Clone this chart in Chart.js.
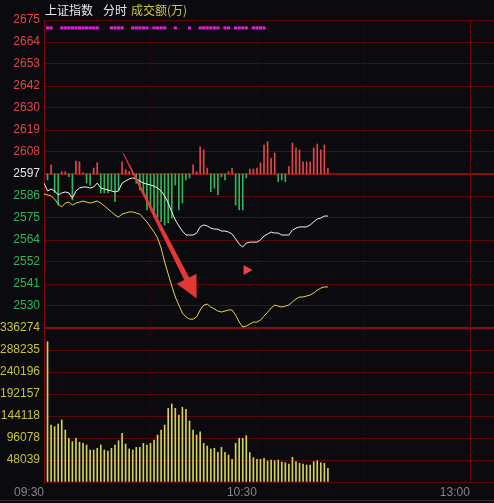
<!DOCTYPE html>
<html>
<head>
<meta charset="utf-8">
<script src="https://cdn.jsdelivr.net/npm/chart.js@4.4.0/dist/chart.umd.min.js"></script>
<style>
  html, body { margin: 0; padding: 0; background: #0b0b0f; overflow: hidden; }
  #wrap { position: relative; width: 494px; height: 503px; }
  .t { position: absolute; top: 1px; font: 12px "Noto Sans CJK SC", sans-serif; white-space: nowrap; }
  #bottomLine { position: absolute; left: 0; top: 500px; width: 494px; height: 1px; background: #2e2e32; }
</style>
</head>
<body>
<div id="wrap">
  <canvas id="chart" width="494" height="503"></canvas>
  <span class="t" style="left:45px;color:#e8e8e8">上证指数</span>
  <span class="t" style="left:103px;color:#e8e8e8">分时</span>
  <span class="t" style="left:131px;color:#c8c83c">成交额(万)</span>
  <div id="bottomLine"></div>
</div>
<script>
// --- data (minute 0 = 09:30) ---
const preClose = 2597;
const priceMin = 2519;
const priceMax = 2675;
const volMax = 336274;

const priceTickLabels = ['2675', '2664', '2653', '2642', '2630', '2619', '2608', '2597',
  '2586', '2575', '2564', '2552', '2541', '2530'];
const volTickLabels = ['336274', '288235', '240196', '192157', '144118', '96078', '48039'];
const timeTicks = [0, 30, 60, 90, 120];
const timeLabels = ['09:30', '', '10:30', '', '13:00'];

// index price, minutes 0..80
const priceLine = [
  2592.4, 2588.4, 2589.4, 2588.4, 2586.4, 2587.4, 2587.9, 2587.4, 2584.8, 2588.4,
  2589.9, 2590.4, 2590.4, 2589.9, 2590.4, 2592.4, 2589.9, 2589.4, 2588.9, 2588.4,
  2587.9, 2588.4, 2592.4, 2593.5, 2594.5, 2595.0, 2594.5, 2593.5, 2592.4, 2591.9,
  2591.4, 2590.9, 2589.9, 2588.4, 2585.9, 2582.3, 2577.8, 2573.7, 2570.7, 2568.1,
  2566.1, 2566.1, 2566.1, 2567.1, 2570.2, 2571.2, 2570.7, 2569.6, 2569.1, 2569.1,
  2568.1, 2568.1, 2567.6, 2566.6, 2564.1, 2561.5, 2560.0, 2562.0, 2562.5, 2562.5,
  2562.5, 2563.6, 2565.6, 2566.6, 2567.6, 2567.1, 2567.1, 2566.1, 2566.1, 2566.1,
  2568.6, 2569.6, 2570.2, 2570.2, 2570.2, 2571.2, 2572.7, 2574.2, 2574.7, 2575.7,
  2575.7
];

// leading line (yellow), minutes 0..80
const leadLine = [
  2586.9, 2586.4, 2585.9, 2584.3, 2581.8, 2580.3, 2582.3, 2582.8, 2581.3, 2582.3,
  2582.8, 2583.3, 2582.8, 2582.3, 2582.8, 2583.3, 2582.3, 2580.8, 2579.3, 2577.8,
  2576.2, 2575.2, 2576.7, 2577.2, 2577.8, 2577.8, 2577.2, 2576.7, 2574.7, 2572.7,
  2570.2, 2567.6, 2564.6, 2559.5, 2552.4, 2546.3, 2540.3, 2534.7, 2530.6, 2526.6,
  2524.6, 2523.5, 2523.5, 2524.6, 2528.1, 2530.6, 2531.1, 2529.6, 2528.6, 2527.6,
  2527.1, 2527.6, 2528.1, 2528.1, 2525.6, 2522.0, 2519.5, 2520.0, 2521.0, 2522.0,
  2522.0, 2523.0, 2525.0, 2527.0, 2529.1, 2530.6, 2530.1, 2529.6, 2530.1, 2530.6,
  2532.2, 2533.7, 2534.7, 2534.7, 2535.2, 2535.7, 2536.7, 2538.2, 2539.2, 2539.8,
  2539.8
];

// red / green strength bars around the previous close, minutes 1..80
const force = [
  -3.0, 4.7, -9.6, -15.7, 1.2, 1.2, -1.4, -13.2, 6.6, 6.2,
  0.6, -4.6, -5.6, 3.0, 5.7, -9.6, -9.6, -9.6, -8.1, -14.0,
  -8.1, 6.2, 2.2, 1.3, 1.0, -4.7, -8.1, -9.6, -18.2, -17.2,
  -21.6, -21.8, -24.2, -25.9, -24.8, -22.3, -5.6, -18.2, -14.7, -3.0,
  -2.0, 4.7, 1.2, 13.8, 12.2, 3.0, -9.0, -7.1, -10.6, -1.4,
  -3.0, 1.2, 3.0, -15.7, -18.2, -18.2, -2.0, 2.5, 2.5, 3.0,
  5.6, 14.7, 16.4, 8.1, 10.6, -3.9, -3.0, -3.9, 3.7, 15.7,
  13.2, 12.2, 6.2, 6.2, 6.2, 13.2, 15.2, 12.2, 14.7, 3.0
];

// turnover per minute, minutes 1..80
const volume = [
  306350, 124500, 120800, 126600, 135400, 113500, 95400, 88000, 95400, 86700,
  84500, 80800, 69900, 69900, 73600, 80800, 69900, 67700, 73600, 80800,
  90200, 106300, 83000, 72100, 69900, 75800, 75800, 84500, 80800, 84500,
  91700, 102600, 113500, 124500, 160900, 170300, 160900, 146300, 163100, 158700,
  133200, 113500, 102600, 109800, 84500, 78600, 72100, 73600, 64800, 75800,
  64800, 59000, 49500, 84500, 95400, 95400, 101100, 64000, 53100, 49500,
  49500, 51700, 45900, 48000, 46600, 48000, 43700, 42100, 39300, 53900,
  44400, 40800, 39300, 37100, 37100, 44400, 46600, 42100, 40800, 29900
];

// minutes with a magenta marker in the top strip
const markerMinutes = [1, 2, 5, 6, 7, 8, 9, 10, 11, 12, 13, 14, 15, 19, 20, 21, 22,
  25, 26, 27, 28, 29, 31, 32, 33, 34, 37, 41, 44, 45, 46, 47, 48, 49, 51, 52,
  54, 55, 56, 57, 59, 60, 61, 62];

// annotations (minute, price)
const arrowFrom = { x: 22.3, y: 2607.5 };
const arrowTo = { x: 43.0, y: 2534.0 };
const pointerAt = { x: 57.5, y: 2548.4 };

const xMax = 126.8;
// -----------------------------------------------------

const RED = '#e04646';
const GREEN = '#30b45a';
const GRID = '#5c0808';
const GRID_MAIN = '#8a0c0c';

const sessionLines = {
  id: 'sessionLines',
  beforeDatasetsDraw(chart) {
    const { ctx, chartArea, scales } = chart;
    ctx.save();
    timeTicks.slice(1).forEach(m => {
      const x = Math.round(scales.x.getPixelForValue(m)) + 0.5;
      ctx.beginPath();
      ctx.strokeStyle = m === 120 ? '#6a0a0a' : '#4a0808';
      ctx.setLineDash(m === 120 ? [] : [1, 2]);
      ctx.lineWidth = 1;
      ctx.moveTo(x, chartArea.top);
      ctx.lineTo(x, chartArea.bottom);
      ctx.stroke();
    });
    ctx.restore();
  }
};

const arrows = {
  id: 'arrows',
  afterDatasetsDraw(chart) {
    const { ctx, scales } = chart;
    const sx = scales.x.getPixelForValue(arrowFrom.x), sy = scales.yp.getPixelForValue(arrowFrom.y);
    const tx = scales.x.getPixelForValue(arrowTo.x), ty = scales.yp.getPixelForValue(arrowTo.y);
    const len = Math.hypot(tx - sx, ty - sy);
    const dx = (tx - sx) / len, dy = (ty - sy) / len;
    const nx = -dy, ny = dx;
    const headLen = 22, headW = 11;
    const bx = tx - dx * headLen, by = ty - dy * headLen;
    ctx.save();
    ctx.fillStyle = 'rgba(238,58,58,0.95)';
    ctx.beginPath();
    ctx.moveTo(sx + nx * 0.5, sy + ny * 0.5);
    ctx.lineTo(bx + nx * 2.8, by + ny * 2.8);
    ctx.lineTo(bx + nx * headW, by + ny * headW);
    ctx.lineTo(tx, ty);
    ctx.lineTo(bx - nx * headW, by - ny * headW);
    ctx.lineTo(bx - nx * 2.8, by - ny * 2.8);
    ctx.lineTo(sx - nx * 0.5, sy - ny * 0.5);
    ctx.closePath();
    ctx.fill();

    const px = scales.x.getPixelForValue(pointerAt.x), py = scales.yp.getPixelForValue(pointerAt.y);
    ctx.fillStyle = '#e8404e';
    ctx.beginPath();
    ctx.moveTo(px - 4.5, py - 5);
    ctx.lineTo(px + 4.5, py);
    ctx.lineTo(px - 4.5, py + 5);
    ctx.closePath();
    ctx.fill();
    ctx.restore();
  }
};

const labelFont = { family: '"Liberation Sans", Arial, sans-serif', size: 12 };

new Chart(document.getElementById('chart'), {
  data: {
    datasets: [
      {
        type: 'line', yAxisID: 'yp',
        data: priceLine.map((v, i) => ({ x: i, y: v })),
        borderColor: '#f4f4f4', borderWidth: 1, pointRadius: 0, tension: 0
      },
      {
        type: 'line', yAxisID: 'yp',
        data: leadLine.map((v, i) => ({ x: i, y: v })),
        borderColor: '#e2d84a', borderWidth: 1, pointRadius: 0, tension: 0
      },
      {
        type: 'bar', yAxisID: 'yp', grouped: false, barThickness: 1,
        data: force.map((v, i) => ({ x: i + 1, y: [preClose, preClose + v] })),
        backgroundColor: force.map(v => v >= 0 ? RED : GREEN)
      },
      {
        type: 'bar', yAxisID: 'yp', grouped: false, barThickness: 2.5,
        data: markerMinutes.map(m => ({ x: m, y: [2670.4, 2671.6] })),
        backgroundColor: '#e020d8'
      },
      {
        type: 'bar', yAxisID: 'yv', grouped: false, barThickness: 1,
        data: volume.map((v, i) => ({ x: i + 1, y: v })),
        backgroundColor: '#d4d25a'
      }
    ]
  },
  options: {
    responsive: false,
    animation: false,
    layout: { padding: { top: 20, right: 0, bottom: 0, left: 0 } },
    plugins: { legend: { display: false }, tooltip: { enabled: false } },
    scales: {
      x: {
        type: 'linear', min: 0, max: xMax, offset: false,
        grid: { display: false, offset: false, drawTicks: false, tickLength: 0 },
        border: { display: false },
        afterBuildTicks: s => { s.ticks = timeTicks.map(v => ({ value: v })); },
        afterFit: s => { s.height = 21; },
        ticks: {
          align: 'end', autoSkip: false, maxRotation: 0, padding: 3,
          color: '#858585', font: labelFont,
          callback: (v, i) => timeLabels[i]
        }
      },
      yv: {
        position: 'left', stack: 'main', stackWeight: 1,
        min: 0, max: volMax,
        afterBuildTicks: s => { s.ticks = [0, 1, 2, 3, 4, 5, 6, 7].map(i => ({ value: volMax * i / 7 })); },
        afterFit: s => { s.width = 44; },
        border: { color: '#7a0a0a' },
        grid: {
          drawTicks: false,
          color: c => c.index === 7 ? GRID_MAIN : GRID,
          lineWidth: c => c.index === 7 ? 2 : 1
        },
        ticks: {
          autoSkip: false, padding: 4, font: labelFont, color: '#c4c43a',
          callback: (v, i) => i === 0 ? '' : volTickLabels[7 - i]
        }
      },
      yp: {
        position: 'left', stack: 'main', stackWeight: 2,
        min: priceMin, max: priceMax,
        afterBuildTicks: s => {
          s.ticks = [];
          for (let i = 0; i <= 14; i++) s.ticks.push({ value: priceMin + (priceMax - priceMin) * i / 14 });
        },
        afterFit: s => { s.width = 44; },
        border: { color: '#7a0a0a' },
        grid: {
          drawTicks: false,
          color: c => c.index === 0 ? 'rgba(0,0,0,0)' : (c.index === 7 ? GRID_MAIN : GRID),
          lineWidth: c => c.index === 7 ? 2 : 1
        },
        ticks: {
          autoSkip: false, padding: 4, font: labelFont,
          color: c => c.index === 7 ? '#e6e6e6' : (c.index > 7 ? RED : GREEN),
          callback: (v, i) => i === 0 ? '' : priceTickLabels[14 - i]
        }
      }
    }
  },
  plugins: [sessionLines, arrows]
});
</script>
</body>
</html>
